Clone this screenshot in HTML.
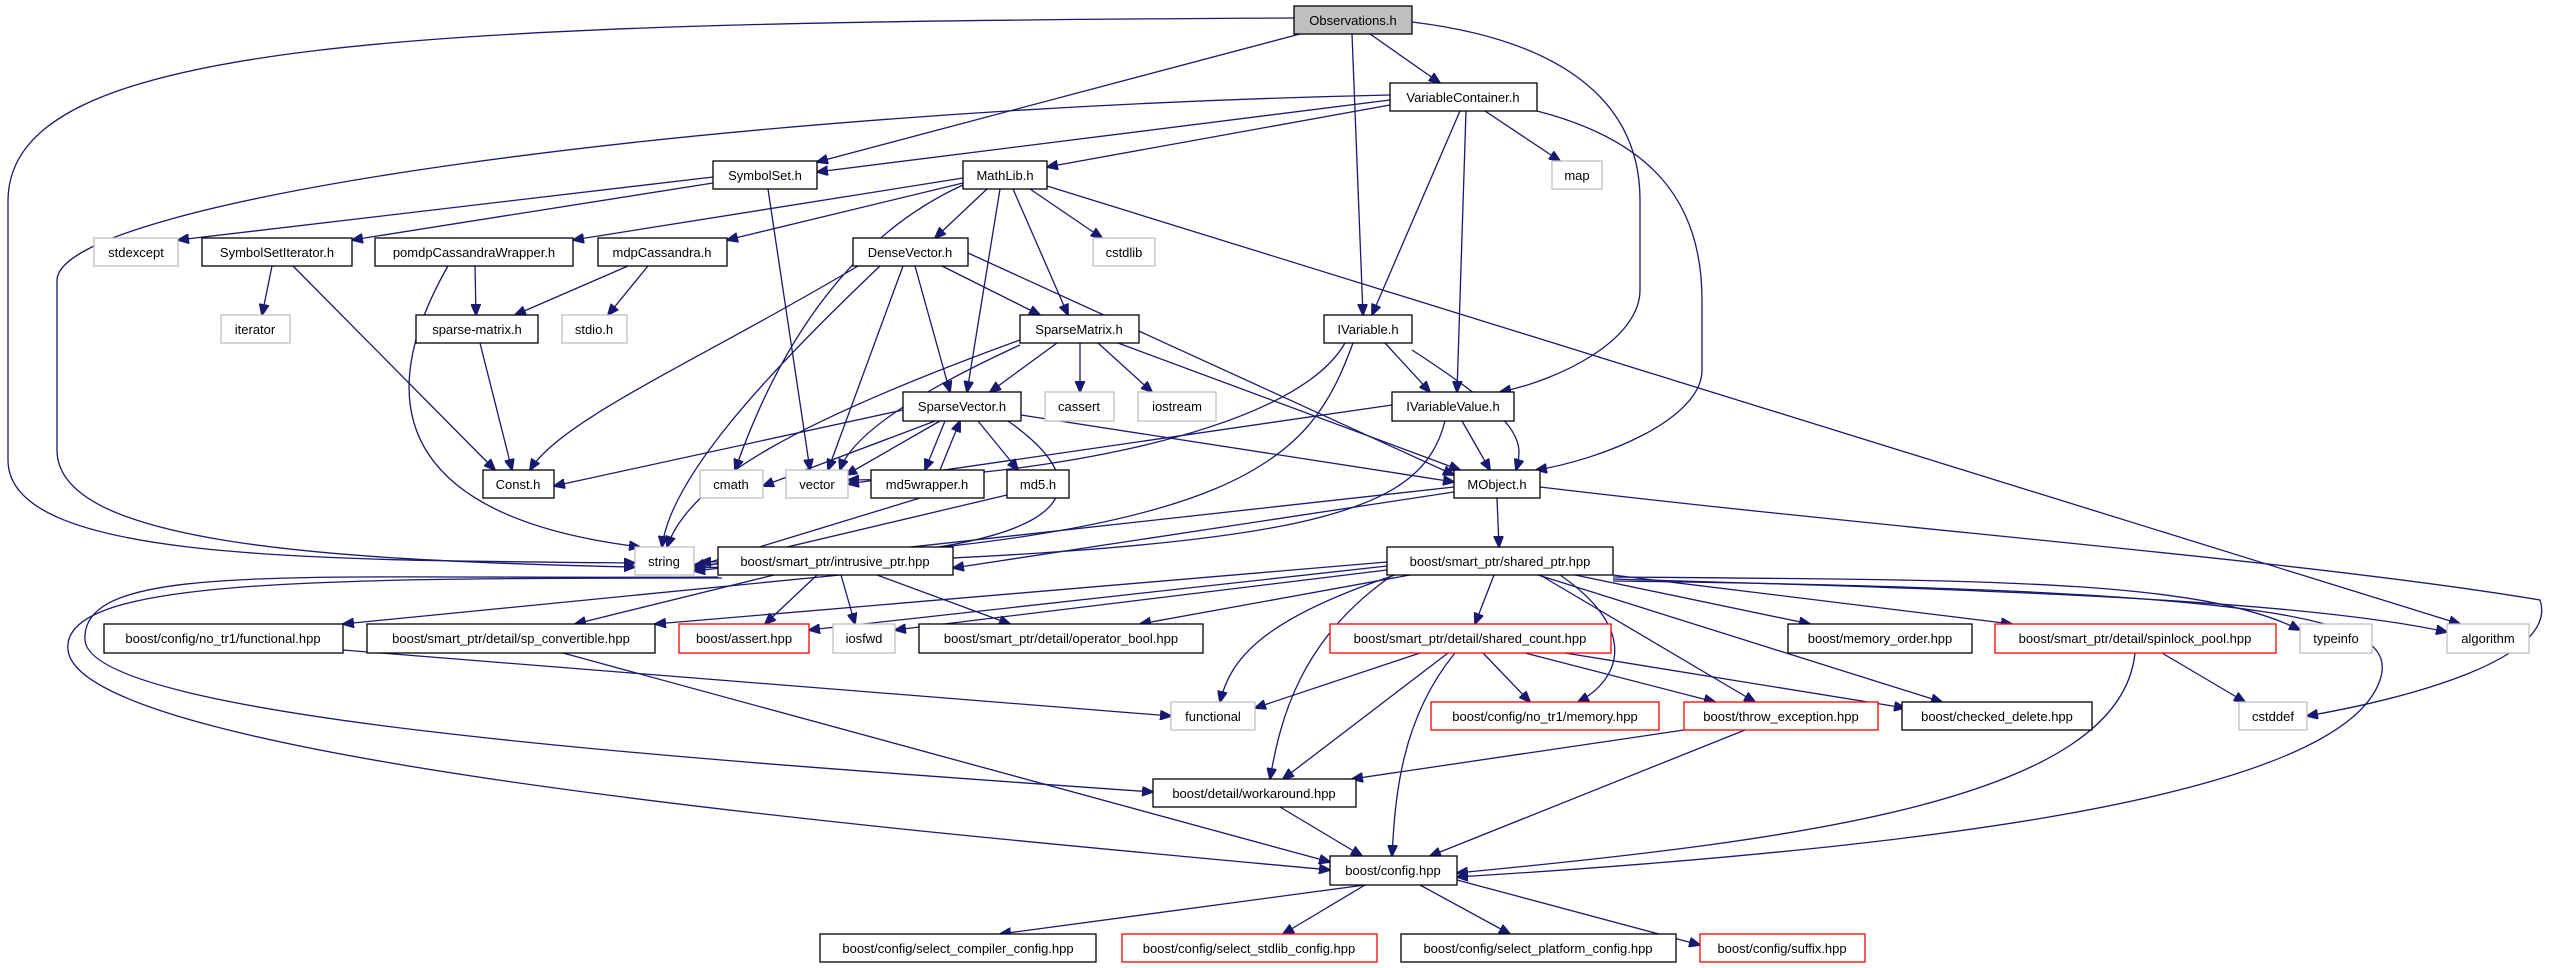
<!DOCTYPE html>
<html><head><meta charset="utf-8"><style>
html,body{margin:0;padding:0;background:#fff;}
svg{display:block;}
text{font-family:"Liberation Sans",sans-serif;font-size:13px;fill:#000;}
.e{fill:none;stroke:#191970;stroke-width:1.3;marker-end:url(#a);}
.b{fill:#fff;stroke:#000;stroke-width:1.3;}
.g{fill:#fff;stroke:#bfbfbf;stroke-width:1.3;}
.r{fill:#fff;stroke:#ff0000;stroke-width:1.3;}
</style></head><body>
<svg width="2553" height="968" viewBox="0 0 2553 968" xmlns="http://www.w3.org/2000/svg">
<defs><marker id="a" markerUnits="userSpaceOnUse" markerWidth="12" markerHeight="10" refX="11" refY="5" orient="auto"><path d="M0,0 L12,5 L0,10 z" fill="#191970" stroke="#191970"/></marker></defs>

<!-- edges -->
<path class="e" d="M1294,18 C400,22 10,40 8,200 L8,460 C8,560 300,560 635,563"/>
<path class="e" d="M1300,34 L817,162"/>
<path class="e" d="M1370,34 L1440,83"/>
<path class="e" d="M1352,34 L1363,315"/>
<path class="e" d="M1412,22 C1560,40 1640,100 1640,200 L1640,290 C1640,340 1560,380 1500,392"/>
<path class="e" d="M1390,95 C700,110 60,200 57,280 L57,450 C57,540 300,560 635,567"/>
<path class="e" d="M1390,100 L817,172"/>
<path class="e" d="M1390,105 L1047,167"/>
<path class="e" d="M1485,111 L1560,161"/>
<path class="e" d="M1460,111 L1372,315"/>
<path class="e" d="M1466,111 L1457,392"/>
<path class="e" d="M1537,111 C1650,140 1702,200 1702,300 L1702,370 C1702,420 1600,460 1536,470"/>
<path class="e" d="M713,177 L178,240"/>
<path class="e" d="M713,183 L352,240"/>
<path class="e" d="M768,189 L810,470"/>
<path class="e" d="M963,178 L573,240"/>
<path class="e" d="M963,183 L727,240"/>
<path class="e" d="M987,189 L935,238"/>
<path class="e" d="M1030,189 L1102,238"/>
<path class="e" d="M1013,189 L1068,315"/>
<path class="e" d="M1000,189 L967,392"/>
<path class="e" d="M963,185 C820,250 760,400 735,470"/>
<path class="e" d="M1047,186 L2460,624"/>
<path class="e" d="M272,266 L262,315"/>
<path class="e" d="M293,266 L495,470"/>
<path class="e" d="M475,266 L476,315"/>
<path class="e" d="M448,266 C360,420 420,520 640,547"/>
<path class="e" d="M628,266 L515,315"/>
<path class="e" d="M648,266 L608,315"/>
<path class="e" d="M480,343 L512,470"/>
<path class="e" d="M858,266 C700,360 560,420 530,470"/>
<path class="e" d="M880,266 C760,380 670,480 662,547"/>
<path class="e" d="M903,266 L828,470"/>
<path class="e" d="M915,266 L950,392"/>
<path class="e" d="M942,266 L1040,315"/>
<path class="e" d="M968,253 L1454,475"/>
<path class="e" d="M1057,343 L990,392"/>
<path class="e" d="M1080,343 L1080,392"/>
<path class="e" d="M1098,343 L1152,392"/>
<path class="e" d="M1118,343 L1460,470"/>
<path class="e" d="M1020,340 C800,420 690,480 667,547"/>
<path class="e" d="M1020,345 C900,400 850,440 840,470"/>
<path class="e" d="M903,410 L554,486"/>
<path class="e" d="M935,421 L763,486"/>
<path class="e" d="M940,421 L846,475"/>
<path class="e" d="M945,421 L925,470"/>
<path class="e" d="M940,470 L960,421"/>
<path class="e" d="M978,421 L1018,470"/>
<path class="e" d="M1008,421 C1120,500 1060,560 700,562"/>
<path class="e" d="M1021,415 L1454,482"/>
<path class="e" d="M1345,343 C1290,440 1000,480 848,480"/>
<path class="e" d="M1353,343 C1310,460 1250,540 694,565"/>
<path class="e" d="M1385,343 L1430,392"/>
<path class="e" d="M1412,350 C1520,420 1525,440 1516,470"/>
<path class="e" d="M1392,405 L848,484"/>
<path class="e" d="M1445,421 C1420,520 1300,550 694,568"/>
<path class="e" d="M1462,421 L1490,470"/>
<path class="e" d="M920,498 L694,567"/>
<path class="e" d="M1007,495 L694,569"/>
<path class="e" d="M1454,487 L694,571"/>
<path class="e" d="M1454,492 L953,568"/>
<path class="e" d="M1497,498 L1499,547"/>
<path class="e" d="M1540,487 C1900,530 2300,560 2540,600 C2560,660 2400,700 2307,716"/>
<path class="e" d="M840,575 L343,624"/>
<path class="e" d="M774,575 L575,624"/>
<path class="e" d="M817,575 L765,624"/>
<path class="e" d="M841,575 L855,624"/>
<path class="e" d="M877,575 L1010,624"/>
<path class="e" d="M718,577 C300,580 80,560 85,640 C90,720 700,760 1153,792"/>
<path class="e" d="M722,578 C300,578 60,580 68,650 C80,760 900,830 1330,870"/>
<path class="e" d="M563,653 L1330,862"/>
<path class="e" d="M343,650 L1171,716"/>
<path class="e" d="M1387,562 L655,624"/>
<path class="e" d="M1387,566 L809,630"/>
<path class="e" d="M1387,570 L895,630"/>
<path class="e" d="M1410,575 L1140,624"/>
<path class="e" d="M1395,575 C1260,620 1230,660 1220,702"/>
<path class="e" d="M1390,577 C1300,640 1280,720 1270,779"/>
<path class="e" d="M1494,575 L1475,624"/>
<path class="e" d="M1560,575 C1640,630 1620,680 1578,702"/>
<path class="e" d="M1540,575 L1755,702"/>
<path class="e" d="M1538,575 L1942,702"/>
<path class="e" d="M1575,575 L1810,624"/>
<path class="e" d="M1613,575 L2012,624"/>
<path class="e" d="M1613,577 C2000,580 2200,580 2300,630"/>
<path class="e" d="M1613,579 C2000,590 2300,600 2447,632"/>
<path class="e" d="M1613,581 C2300,590 2400,620 2380,680 C2340,800 1900,850 1457,877"/>
<path class="e" d="M1420,653 L1255,708"/>
<path class="e" d="M1448,653 L1283,779"/>
<path class="e" d="M1455,653 C1400,720 1395,800 1392,856"/>
<path class="e" d="M1483,653 L1530,702"/>
<path class="e" d="M1525,653 L1715,702"/>
<path class="e" d="M1565,653 L1905,708"/>
<path class="e" d="M2162,653 L2245,702"/>
<path class="e" d="M2135,653 C2120,800 1800,840 1457,873"/>
<path class="e" d="M1684,730 L1352,779"/>
<path class="e" d="M1745,730 L1430,856"/>
<path class="e" d="M1280,807 L1362,856"/>
<path class="e" d="M1365,885 L1000,934"/>
<path class="e" d="M1365,885 L1283,934"/>
<path class="e" d="M1420,885 L1510,934"/>
<path class="e" d="M1457,880 L1700,945"/>

<!-- nodes -->
<g>
<rect x="1294" y="6" width="118" height="28" fill="#bfbfbf" stroke="#000" stroke-width="1.3"/><text x="1353" y="25" text-anchor="middle">Observations.h</text>
<rect class="b" x="1390" y="83" width="147" height="28"/><text x="1463" y="102" text-anchor="middle">VariableContainer.h</text>
<rect class="b" x="713" y="161" width="104" height="28"/><text x="765" y="180" text-anchor="middle">SymbolSet.h</text>
<rect class="b" x="963" y="161" width="84" height="28"/><text x="1005" y="180" text-anchor="middle">MathLib.h</text>
<rect class="g" x="1552" y="161" width="50" height="28"/><text x="1577" y="180" text-anchor="middle">map</text>
<rect class="g" x="94" y="238" width="84" height="28"/><text x="136" y="257" text-anchor="middle">stdexcept</text>
<rect class="b" x="202" y="238" width="150" height="28"/><text x="277" y="257" text-anchor="middle">SymbolSetIterator.h</text>
<rect class="b" x="375" y="238" width="198" height="28"/><text x="474" y="257" text-anchor="middle">pomdpCassandraWrapper.h</text>
<rect class="b" x="598" y="238" width="129" height="28"/><text x="662" y="257" text-anchor="middle">mdpCassandra.h</text>
<rect class="b" x="853" y="238" width="115" height="28"/><text x="910" y="257" text-anchor="middle">DenseVector.h</text>
<rect class="g" x="1093" y="238" width="62" height="28"/><text x="1124" y="257" text-anchor="middle">cstdlib</text>
<rect class="g" x="221" y="315" width="69" height="28"/><text x="255" y="334" text-anchor="middle">iterator</text>
<rect class="b" x="416" y="315" width="122" height="28"/><text x="477" y="334" text-anchor="middle">sparse-matrix.h</text>
<rect class="g" x="562" y="315" width="65" height="28"/><text x="594" y="334" text-anchor="middle">stdio.h</text>
<rect class="b" x="1020" y="315" width="119" height="28"/><text x="1079" y="334" text-anchor="middle">SparseMatrix.h</text>
<rect class="b" x="1324" y="315" width="88" height="28"/><text x="1368" y="334" text-anchor="middle">IVariable.h</text>
<rect class="b" x="903" y="392" width="118" height="29"/><text x="962" y="411" text-anchor="middle">SparseVector.h</text>
<rect class="g" x="1045" y="392" width="69" height="29"/><text x="1079" y="411" text-anchor="middle">cassert</text>
<rect class="g" x="1138" y="392" width="78" height="29"/><text x="1177" y="411" text-anchor="middle">iostream</text>
<rect class="b" x="1392" y="392" width="122" height="29"/><text x="1453" y="411" text-anchor="middle">IVariableValue.h</text>
<rect class="b" x="483" y="470" width="71" height="28"/><text x="518" y="489" text-anchor="middle">Const.h</text>
<rect class="g" x="700" y="470" width="63" height="28"/><text x="731" y="489" text-anchor="middle">cmath</text>
<rect class="g" x="786" y="470" width="62" height="28"/><text x="817" y="489" text-anchor="middle">vector</text>
<rect class="b" x="871" y="470" width="113" height="28"/><text x="927" y="489" text-anchor="middle">md5wrapper.h</text>
<rect class="b" x="1007" y="470" width="62" height="28"/><text x="1038" y="489" text-anchor="middle">md5.h</text>
<rect class="b" x="1454" y="470" width="86" height="28"/><text x="1497" y="489" text-anchor="middle">MObject.h</text>
<rect class="g" x="635" y="547" width="59" height="28"/><text x="664" y="566" text-anchor="middle">string</text>
<rect class="b" x="718" y="547" width="235" height="28"/><text x="835" y="566" text-anchor="middle">boost/smart_ptr/intrusive_ptr.hpp</text>
<rect class="b" x="1387" y="547" width="226" height="28"/><text x="1500" y="566" text-anchor="middle">boost/smart_ptr/shared_ptr.hpp</text>

<rect class="b" x="104" y="624" width="239" height="29"/><text x="223" y="643" text-anchor="middle">boost/config/no_tr1/functional.hpp</text>
<rect class="b" x="367" y="624" width="288" height="29"/><text x="511" y="643" text-anchor="middle">boost/smart_ptr/detail/sp_convertible.hpp</text>
<rect class="r" x="679" y="624" width="130" height="29"/><text x="744" y="643" text-anchor="middle">boost/assert.hpp</text>
<rect class="g" x="833" y="624" width="62" height="29"/><text x="864" y="643" text-anchor="middle">iosfwd</text>
<rect class="b" x="919" y="624" width="284" height="29"/><text x="1061" y="643" text-anchor="middle">boost/smart_ptr/detail/operator_bool.hpp</text>
<rect class="r" x="1330" y="624" width="281" height="29"/><text x="1470" y="643" text-anchor="middle">boost/smart_ptr/detail/shared_count.hpp</text>
<rect class="b" x="1788" y="624" width="184" height="29"/><text x="1880" y="643" text-anchor="middle">boost/memory_order.hpp</text>
<rect class="r" x="1995" y="624" width="281" height="29"/><text x="2135" y="643" text-anchor="middle">boost/smart_ptr/detail/spinlock_pool.hpp</text>
<rect class="g" x="2300" y="624" width="72" height="29"/><text x="2336" y="643" text-anchor="middle">typeinfo</text>
<rect class="g" x="2447" y="624" width="82" height="29"/><text x="2488" y="643" text-anchor="middle">algorithm</text>

<rect class="g" x="1171" y="702" width="84" height="28"/><text x="1213" y="721" text-anchor="middle">functional</text>
<rect class="r" x="1431" y="702" width="228" height="28"/><text x="1545" y="721" text-anchor="middle">boost/config/no_tr1/memory.hpp</text>
<rect class="r" x="1684" y="702" width="194" height="28"/><text x="1781" y="721" text-anchor="middle">boost/throw_exception.hpp</text>
<rect class="b" x="1902" y="702" width="190" height="28"/><text x="1997" y="721" text-anchor="middle">boost/checked_delete.hpp</text>
<rect class="g" x="2239" y="702" width="68" height="28"/><text x="2273" y="721" text-anchor="middle">cstddef</text>

<rect class="b" x="1153" y="779" width="203" height="28"/><text x="1254" y="798" text-anchor="middle">boost/detail/workaround.hpp</text>
<rect class="b" x="1330" y="856" width="127" height="29"/><text x="1393" y="875" text-anchor="middle">boost/config.hpp</text>

<rect class="b" x="820" y="934" width="276" height="28"/><text x="958" y="953" text-anchor="middle">boost/config/select_compiler_config.hpp</text>
<rect class="r" x="1122" y="934" width="255" height="28"/><text x="1249" y="953" text-anchor="middle">boost/config/select_stdlib_config.hpp</text>
<rect class="b" x="1401" y="934" width="275" height="28"/><text x="1538" y="953" text-anchor="middle">boost/config/select_platform_config.hpp</text>
<rect class="r" x="1700" y="934" width="165" height="28"/><text x="1782" y="953" text-anchor="middle">boost/config/suffix.hpp</text>
</g>
</svg>
</body></html>
